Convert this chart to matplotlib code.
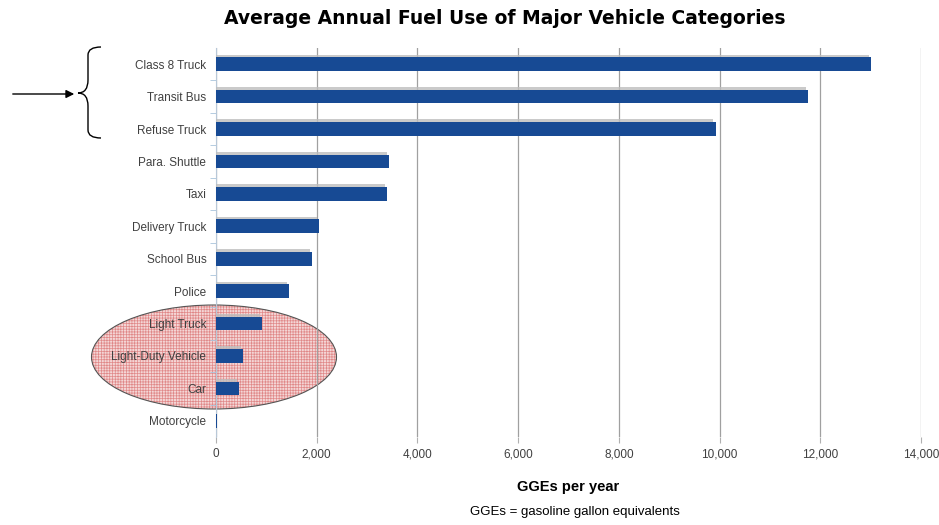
import matplotlib.pyplot as plt
import matplotlib.patheffects as pe
from matplotlib.patches import Ellipse, PathPatch, FancyArrowPatch
from matplotlib.path import Path
from matplotlib.ticker import FuncFormatter

categories = [
    "Class 8 Truck", "Transit Bus", "Refuse Truck", "Para. Shuttle", "Taxi",
    "Delivery Truck", "School Bus", "Police", "Light Truck",
    "Light-Duty Vehicle", "Car", "Motorcycle",
]
gge_per_year = [13000, 11750, 9920, 3440, 3400, 2050, 1910, 1450, 915, 540, 460, 20]
x_ticks = [0, 2000, 4000, 6000, 8000, 10000, 12000, 14000]

W, H = 939, 525
plt.rcParams["font.family"] = ["Liberation Sans", "DejaVu Sans"]
plt.rcParams["hatch.linewidth"] = 0.5

fig = plt.figure(figsize=(W / 100, H / 100), dpi=100)
ax = fig.add_axes([216 / W, 1 - 437 / H, (921 - 216) / W, (437 - 48) / H])
ax.patch.set_alpha(0)


def px(x, y):
    """Pixel coords (top-left origin) -> figure fraction."""
    return x / W, 1 - y / H


ypos = list(range(len(categories)))
ax.barh(
    ypos, gge_per_year, height=0.42, color="#174a94", zorder=3,
    path_effects=[pe.SimplePatchShadow(offset=(-1.5, 2), shadow_rgbFace="#bdbdbd", alpha=0.8), pe.Normal()],
)
ax.set_yticks(ypos)
ax.set_yticklabels(categories, fontsize=8.5, color="#404040")
ax.set_ylim(len(categories) - 0.5, -0.5)
ax.set_xlim(0, 14000)
ax.set_xticks(x_ticks)
ax.xaxis.set_major_formatter(FuncFormatter(lambda v, _: f"{int(v):,}"))
ax.tick_params(axis="x", labelsize=8.5, labelcolor="#404040", length=4, color="#b0b0b0", pad=4)
ax.tick_params(axis="y", length=0, pad=7)
ax.set_yticks([i + 0.5 for i in ypos[:-1]], minor=True)
ax.tick_params(axis="y", which="minor", length=4, color="#a8c4dc")
ax.grid(axis="x", color="#a0a0a0", linewidth=0.9, zorder=0)
for side in ("top", "right", "bottom"):
    ax.spines[side].set_visible(False)
ax.spines["left"].set_color("#b8c8d8")
ax.set_xlabel("GGEs per year", fontsize=10.5, fontweight="bold", labelpad=14)

fig.text(505 / W, 1 - 18 / H, "Average Annual Fuel Use of Major Vehicle Categories",
         ha="center", va="center", fontsize=13.5, fontweight="bold", family="DejaVu Sans")
fig.text(575 / W, 1 - 512 / H, "GGEs = gasoline gallon equivalents",
         ha="center", va="center", fontsize=9.5)

# hatched ellipse around the light-duty categories (behind the axes content)
fig.add_artist(Ellipse(px(214, 357), 245 / W, 104 / H, transform=fig.transFigure,
                       facecolor="#f4d6d6", edgecolor="#e08888", linewidth=0,
                       hatch="++++++", zorder=-1))
fig.add_artist(Ellipse(px(214, 357), 245 / W, 104 / H, transform=fig.transFigure,
                       facecolor="none", edgecolor="#555555", linewidth=0.8, zorder=-1))

# curly brace around heavy-duty categories
verts = [
    px(101, 47), px(88, 47), px(88, 55), px(88, 80),
    px(88, 93), px(78, 93), px(78, 93),
    px(88, 93), px(88, 106), px(88, 130),
    px(88, 138), px(101, 138),
]
codes = [Path.MOVETO, Path.CURVE3, Path.CURVE3, Path.LINETO,
         Path.CURVE3, Path.CURVE3, Path.MOVETO,
         Path.CURVE3, Path.CURVE3, Path.LINETO,
         Path.CURVE3, Path.CURVE3]
fig.add_artist(PathPatch(Path(verts, codes), transform=fig.transFigure,
                         facecolor="none", edgecolor="black", linewidth=1))
fig.add_artist(FancyArrowPatch(px(10, 94), px(77, 94), transform=fig.transFigure,
                               arrowstyle="-|>", mutation_scale=12, color="black", linewidth=1))

fig.savefig("out.png", dpi=100)
